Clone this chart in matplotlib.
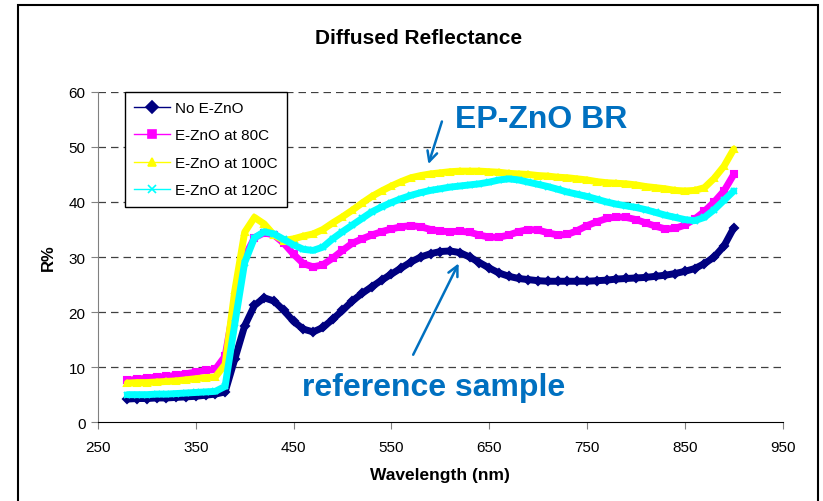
import numpy as np
import matplotlib
matplotlib.use("Agg")
import matplotlib.pyplot as plt
from matplotlib.lines import Line2D
from matplotlib.patches import Rectangle

plt.rcParams['font.family'] = ['Liberation Sans', 'DejaVu Sans']

wavelength = list(range(280, 901, 10))

no_ezno = [4.2, 4.3, 4.3, 4.4, 4.4, 4.5, 4.6, 4.7, 4.9, 5.1,
           5.5, 11.5, 17.5, 21.2, 22.6, 22.0, 20.3, 18.3, 16.9, 16.4,
           17.2, 18.7, 20.3, 22.0, 23.4, 24.6, 25.8, 26.9, 28.0, 29.1,
           30.0, 30.6, 31.0, 31.1, 30.8, 30.0, 29.0, 28.0, 27.1, 26.5,
           26.1, 25.9, 25.7, 25.6, 25.6, 25.6, 25.6, 25.6, 25.7, 25.8,
           26.0, 26.1, 26.2, 26.3, 26.5, 26.7, 27.0, 27.4, 27.9, 28.8,
           30.0, 32.0, 35.3]

ezno_80 = [7.6, 7.8, 8.0, 8.2, 8.3, 8.5, 8.8, 9.1, 9.4, 9.6,
           12.0, 22.0, 30.0, 33.5, 34.4, 34.0, 32.5, 30.5, 28.8, 28.2,
           28.6, 29.8, 31.2, 32.5, 33.3, 34.0, 34.6, 35.1, 35.5, 35.7,
           35.5, 35.0, 34.7, 34.6, 34.7, 34.5, 34.0, 33.6, 33.6, 34.0,
           34.6, 35.0, 34.9, 34.4, 34.0, 34.1, 34.8, 35.7, 36.4, 37.0,
           37.3, 37.2, 36.8, 36.2, 35.6, 35.1, 35.2, 35.8, 36.9, 38.3,
           40.0, 42.0, 45.0]

ezno_100 = [7.1, 7.2, 7.2, 7.3, 7.4, 7.5, 7.7, 7.9, 8.1, 8.2,
            10.5, 24.0, 34.5, 37.2, 36.0, 34.0, 33.0, 33.3, 33.8, 34.2,
            35.0, 36.2, 37.3, 38.5, 39.8, 41.0, 42.0, 42.9, 43.7, 44.4,
            44.8, 45.1, 45.3, 45.5, 45.6, 45.6, 45.6, 45.5, 45.4, 45.2,
            45.1, 45.0, 44.8, 44.7, 44.5, 44.4, 44.2, 44.0, 43.7, 43.5,
            43.4, 43.3, 43.1, 42.8, 42.6, 42.4, 42.1, 42.0, 42.1, 42.6,
            44.3, 46.5, 49.6]

ezno_120 = [5.0, 5.0, 5.0, 5.1, 5.1, 5.2, 5.3, 5.4, 5.5, 5.6,
            6.5, 18.0, 29.0, 33.5, 34.6, 34.2, 33.2, 32.2, 31.4, 31.2,
            31.8, 33.3, 34.6, 35.8, 37.0, 38.2, 39.1, 39.9, 40.6, 41.2,
            41.7, 42.1, 42.4, 42.7, 42.9, 43.1, 43.3, 43.6, 44.0, 44.2,
            44.0, 43.6, 43.2, 42.8, 42.3, 41.8, 41.4, 41.0, 40.5, 40.0,
            39.6, 39.3, 39.0, 38.6, 38.1, 37.6, 37.2, 36.8, 36.6, 37.2,
            38.6, 40.3, 42.0]

labels = ['No E-ZnO', 'E-ZnO at 80C', 'E-ZnO at 100C', 'E-ZnO at 120C']
colors = ['#000080', '#FF00FF', '#FFFF00', '#00FFFF']
markers = ['D', 's', '^', 'x']
series = [no_ezno, ezno_80, ezno_100, ezno_120]

fig = plt.figure(figsize=(8.23, 5.02), dpi=100)
ax = fig.add_axes([0.119, 0.157, 0.832, 0.658])

# border round the whole chart
fig.patches.append(Rectangle((0.022, -0.02), 0.972, 1.008, transform=fig.transFigure,
                             fill=False, edgecolor='black', linewidth=1.5))

for ys, c, m in zip(series, colors, markers):
    ax.plot(wavelength, ys, color=c, linewidth=5, marker=m, markersize=4.5,
            markeredgecolor=c, markeredgewidth=1.5, solid_capstyle='round')

ax.set_xlim(250, 950)
ax.set_ylim(0, 60)
ax.set_xticks(range(250, 951, 100))
ax.set_yticks(range(0, 61, 10))
for yv in range(10, 61, 10):
    ax.axhline(yv, color='#404040', linewidth=0.9, dashes=(6, 4), zorder=0)

for s in ['top', 'right']:
    ax.spines[s].set_visible(False)
ax.spines['left'].set_color('#808080')
ax.spines['bottom'].set_color('black')
ax.tick_params(axis='y', direction='out', length=5, color='#808080', labelsize=11, pad=4)
ax.tick_params(axis='x', direction='out', length=5, color='#808080', labelsize=11, pad=8)

fig.text(419 / 823, 1 - 38 / 502, 'Diffused Reflectance', fontsize=15,
         fontweight='bold', ha='center', va='center')
ax.set_xlabel('Wavelength (nm)', fontsize=12.5, fontweight='bold', labelpad=9)
ax.set_ylabel('R%', fontsize=12, fontweight='bold', labelpad=9)

handles = [Line2D([0], [0], color=c, marker=m, markersize=6, linewidth=1,
                  markeredgecolor=c, markeredgewidth=1.2)
           for c, m in zip(colors, markers)]
leg = ax.legend(handles, labels, loc='upper left', bbox_to_anchor=(0.039, 1.0),
                fontsize=11, frameon=True, fancybox=False, edgecolor='black',
                handlelength=2.4, labelspacing=0.88, borderpad=0.6, handletextpad=0.3,
                borderaxespad=0)
leg.get_frame().set_linewidth(1)
leg.get_frame().set_alpha(1)

blue = '#0070C0'
ax.annotate('', xy=(587, 46.4), xytext=(602.5, 55.1),
            arrowprops=dict(arrowstyle='->', color=blue, lw=1.8, mutation_scale=18))
ax.text(615, 55, 'EP-ZnO BR', color=blue, fontsize=23, fontweight='bold', va='center')
ax.annotate('', xy=(620, 29.3), xytext=(571, 11.8),
            arrowprops=dict(arrowstyle='->', color=blue, lw=1.8, mutation_scale=18))
ax.text(458.5, 6.4, 'reference sample', color=blue, fontsize=23, fontweight='bold',
        va='center')

fig.savefig('out.png', dpi=100)
